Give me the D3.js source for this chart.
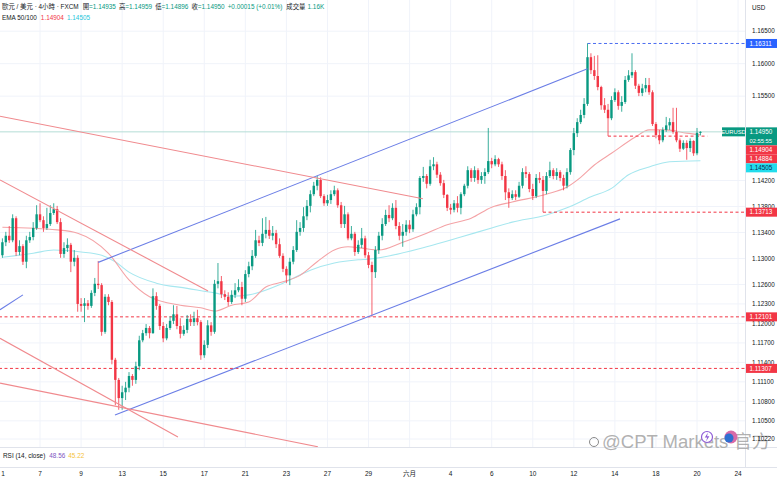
<!DOCTYPE html>
<html>
<head>
<meta charset="utf-8">
<script src="https://cdnjs.cloudflare.com/ajax/libs/d3/7.8.5/d3.min.js"></script>
<style>
  body { margin: 0; background: #ffffff; }
  #chart { width: 777px; height: 480px; }
  text { font-family: "Liberation Sans", "Noto Sans CJK TC", "DejaVu Sans", sans-serif; }
</style>
</head>
<body>
<div id="chart"></div>
<script>
// EUR/USD 4h bars, open = previous close
const firstOpen = 1.1305;
const closes = [
  1.1325,1.1335,1.1328,1.1362,1.1310,1.1319,1.1295,1.1328,1.1333,1.1347,
  1.1368,1.1359,1.1347,1.1353,1.1370,1.1376,1.1356,1.1307,1.1316,1.1321,
  1.1295,1.1301,1.1230,1.1227,1.1231,1.1227,1.1247,1.1261,1.1259,1.1187,
  1.1241,1.1233,1.1144,1.1113,1.1085,1.1094,1.1101,1.1119,1.1113,1.1134,
  1.1174,1.1185,1.1193,1.1185,1.1242,1.1227,1.1196,1.1177,1.1193,1.1204,
  1.1214,1.1196,1.1184,1.1190,1.1207,1.1202,1.1208,1.1202,1.1151,1.1167,
  1.1197,1.1187,1.1261,1.1265,1.1245,1.1241,1.1233,1.1244,1.1251,1.1256,
  1.1238,1.1276,1.1288,1.1304,1.1328,1.1324,1.1338,1.1344,1.1335,1.1339,
  1.1322,1.1304,1.1284,1.1274,1.1295,1.1313,1.1341,1.1347,1.1365,1.1381,
  1.1399,1.1412,1.1421,1.1396,1.1385,1.1390,1.1399,1.1405,1.1382,1.1353,
  1.1368,1.1331,1.1338,1.1310,1.1321,1.1331,1.1305,1.1290,1.1279,1.1313,
  1.1335,1.1353,1.1367,1.1362,1.1378,1.1350,1.1335,1.1341,1.1352,1.1345,
  1.1368,1.1379,1.1424,1.1427,1.1415,1.1442,1.1445,1.1429,1.1416,1.1398,
  1.1378,1.1375,1.1385,1.1378,1.1399,1.1412,1.1436,1.1424,1.1436,1.1421,
  1.1427,1.1433,1.1450,1.1445,1.1453,1.1445,1.1427,1.1402,1.1393,1.1399,
  1.1395,1.1412,1.1433,1.1430,1.1407,1.1396,1.1424,1.1421,1.1404,1.1427,
  1.1436,1.1427,1.1433,1.1424,1.1412,1.1433,1.1467,1.1493,1.1510,1.1521,
  1.1538,1.1610,1.1590,1.1581,1.1564,1.1536,1.1529,1.1516,1.1544,1.1556,
  1.1535,1.1541,1.1575,1.1582,1.1587,1.1566,1.1555,1.1562,1.1567,1.1556,
  1.1507,1.1490,1.1482,1.1498,1.1505,1.1510,1.1495,1.1482,1.1469,1.1478,
  1.1470,1.1481,1.1462,1.14935,1.14950
];
const highs = [
  1.1331,1.1341,1.1350,1.1368,1.1365,1.1328,1.1322,1.1335,1.1341,1.1356,
  1.1382,1.1385,1.1365,1.1378,1.1382,1.1385,1.1381,1.1362,1.1325,1.1331,
  1.1324,1.1313,1.1305,1.1239,1.1239,1.1236,1.1251,1.1270,1.1296,1.1262,
  1.1245,1.1245,1.1236,1.1147,1.1116,1.1104,1.1110,1.1125,1.1122,1.1141,
  1.1181,1.1190,1.1199,1.1196,1.1254,1.1248,1.1230,1.1202,1.1199,1.1211,
  1.1228,1.1227,1.1208,1.1197,1.1213,1.1214,1.1218,1.1221,1.1205,1.1174,
  1.1205,1.1202,1.1267,1.1293,1.1273,1.1251,1.1248,1.1251,1.1262,1.1268,
  1.1264,1.1282,1.1295,1.1313,1.1344,1.1335,1.1362,1.1364,1.1359,1.1350,
  1.1344,1.1331,1.1308,1.1288,1.1301,1.1319,1.1359,1.1356,1.1379,1.1390,
  1.1405,1.1418,1.1427,1.1425,1.1399,1.1398,1.1405,1.1412,1.1408,1.1387,
  1.1381,1.1371,1.1350,1.1341,1.1328,1.1347,1.1335,1.1310,1.1295,1.1319,
  1.1341,1.1362,1.1375,1.1382,1.1385,1.1390,1.1356,1.1353,1.1359,1.1359,
  1.1375,1.1385,1.1427,1.1441,1.1430,1.1452,1.1456,1.1449,1.1433,1.1421,
  1.1399,1.1384,1.1390,1.1396,1.1402,1.1415,1.1442,1.1439,1.1442,1.1439,
  1.1433,1.1439,1.1501,1.1455,1.1459,1.1455,1.1449,1.1436,1.1408,1.1405,
  1.1405,1.1418,1.1439,1.1442,1.1433,1.1415,1.1430,1.1433,1.1427,1.1433,
  1.1449,1.1439,1.1439,1.1436,1.1429,1.1439,1.1470,1.1501,1.1516,1.1529,
  1.1547,1.16311,1.1616,1.1612,1.1613,1.1566,1.1547,1.1538,1.1550,1.1562,
  1.1559,1.1550,1.1581,1.1590,1.1616,1.1590,1.1569,1.1569,1.1578,1.1578,
  1.1559,1.1510,1.1498,1.1502,1.1518,1.1516,1.1532,1.1532,1.1485,1.1482,
  1.1482,1.1485,1.1482,1.1501,1.14959
];
const lows = [
  1.1301,1.1319,1.1324,1.1325,1.1304,1.1305,1.1290,1.1285,1.1324,1.1328,
  1.1344,1.1356,1.1341,1.1344,1.1350,1.1367,1.1353,1.1301,1.1301,1.1310,
  1.1279,1.1288,1.1218,1.1218,1.1202,1.1221,1.1224,1.1242,1.1253,1.1181,
  1.1184,1.1228,1.1137,1.1074,1.1067,1.1067,1.1082,1.1094,1.1104,1.1107,
  1.1128,1.1171,1.1181,1.1177,1.1184,1.1221,1.1190,1.1171,1.1174,1.1190,
  1.1199,1.1191,1.1177,1.1181,1.1185,1.1196,1.1196,1.1197,1.1144,1.1147,
  1.1162,1.1181,1.1184,1.1254,1.1239,1.1236,1.1227,1.1230,1.1239,1.1248,
  1.1228,1.1233,1.1271,1.1282,1.1301,1.1319,1.1319,1.1331,1.1330,1.1328,
  1.1316,1.1301,1.1279,1.1262,1.1259,1.1291,1.1310,1.1335,1.1341,1.1359,
  1.1371,1.1396,1.1405,1.1393,1.1381,1.1381,1.1384,1.1396,1.1378,1.1347,
  1.1347,1.1328,1.1328,1.1304,1.1307,1.1316,1.1301,1.1285,1.12101,1.1270,
  1.1307,1.1328,1.1350,1.1356,1.1359,1.1345,1.1328,1.1318,1.1335,1.1339,
  1.1341,1.1365,1.1368,1.1418,1.1408,1.1412,1.1436,1.1424,1.1412,1.1393,
  1.1373,1.1368,1.1371,1.1371,1.1368,1.1396,1.1408,1.1418,1.1418,1.1415,
  1.1415,1.1415,1.1430,1.1439,1.1442,1.1441,1.1421,1.1390,1.1378,1.1390,
  1.1390,1.1393,1.1408,1.1424,1.1402,1.1390,1.1393,1.1416,1.13713,1.1399,
  1.1424,1.1422,1.1421,1.1419,1.1405,1.1408,1.1429,1.1459,1.1487,1.1507,
  1.1516,1.1535,1.1584,1.1575,1.1559,1.1529,1.1524,1.14884,1.1513,1.1541,
  1.1529,1.1526,1.1538,1.1572,1.1578,1.1561,1.1550,1.1550,1.1556,1.1552,
  1.1504,1.1485,1.1476,1.1479,1.1495,1.1498,1.1492,1.1479,1.1464,1.1467,
  1.1452,1.1464,1.1458,1.1459,1.14896
];

// time axis: bar index of each date label
const dateIdx = [-1, 11, 23, 35, 47, 59, 71, 83, 95, 107, 119, 131, 143, 155, 167, 179, 191, 203, 215];
const dateLabels = ["1","7","9","13","15","17","21","23","27","29","六月","4","6","10","12","14","18","20","24"];

const priceTicks = [1.165, 1.16, 1.155, 1.142, 1.138, 1.134, 1.13, 1.126, 1.123, 1.12, 1.117, 1.114, 1.111, 1.108, 1.105, 1.1022];

// EMA 50 / 100 read at points along the curves
const ema50Idx = [0,16,22,31,37,43,52,58,62,67,72,77,82,87,92,97,101,105,110,117,124,130,137,143,149,159,165,169,173,178,185,189,194,200,204];
const ema50Val = [1.1348,1.1344,1.1339,1.1308,1.1267,1.1241,1.1228,1.1224,1.1219,1.1228,1.1233,1.1256,1.1264,1.1274,1.1295,1.1313,1.1318,1.1316,1.1313,1.1325,1.1339,1.1352,1.1362,1.1379,1.1387,1.1399,1.1410,1.1425,1.1444,1.1462,1.1487,1.1498,1.1498,1.1493,1.14904];
const ema100Idx = [0,9,15,23,29,33,37,45,54,62,67,72,82,90,97,104,107,124,134,143,149,159,165,172,178,183,189,195,204];
const ema100Val = [1.1302,1.1308,1.1313,1.1310,1.1305,1.1295,1.1279,1.1262,1.1254,1.1247,1.1242,1.1244,1.1262,1.1282,1.1293,1.1298,1.1299,1.1318,1.1333,1.1347,1.1356,1.1367,1.1378,1.1395,1.1408,1.1429,1.1441,1.1449,1.14505];

// drawn trend lines: [bar0, price0, bar1, price1]
const blueLines = [[28, 1.1294, 171, 1.1592], [32.9, 1.1059, 180.5, 1.1361], [-0.7, 1.1221, 6, 1.1244]];
const redLines = [[-0.7, 1.1519, 122.9, 1.1392], [-0.7, 1.1421, 60.1, 1.1250], [-0.7, 1.1177, 51.3, 1.1025], [-0.7, 1.1108, 92.2, 1.1010]];

// horizontal levels
const levelPrices = [1.16311, 1.14884, 1.13713, 1.12101, 1.11307];
const levelFrom = [171, 177, 158, -1, -1];
const levelTo = [null, 206, null, null, null];

const W = 777, H = 480, paneR = 745, paneB = 447;
const up = '#089981', down = '#f23645', ink = '#131722';
const fmt = d3.format('.5f');
const n = closes.length;

const bars = closes.map((c, i) => {
  const o = i === 0 ? firstOpen : closes[i - 1];
  return {i, o, c, h: Math.max(highs[i], o, c), l: Math.min(lows[i], o, c)};
});

const x = d3.scaleLinear().domain([0, 203]).range([2.4, 697]);
const y = d3.scaleLinear().domain([1.1022, 1.165]).range([439, 31.2]);

const svg = d3.select('#chart').append('svg').attr('width', W).attr('height', H);
svg.append('rect').attr('width', W).attr('height', H).attr('fill', '#fff');
svg.append('defs').append('clipPath').attr('id', 'pane')
  .append('rect').attr('width', paneR).attr('height', paneB);

const pane = svg.append('g').attr('clip-path', 'url(#pane)');

// grid
pane.selectAll('.vg').data(dateIdx).join('line').attr('class', 'vg')
  .attr('x1', d => x(d)).attr('x2', d => x(d)).attr('y1', 0).attr('y2', paneB)
  .attr('stroke', '#f0f3fa');
pane.selectAll('.hg').data(priceTicks).join('line').attr('class', 'hg')
  .attr('x1', 0).attr('x2', paneR).attr('y1', d => y(d)).attr('y2', d => y(d))
  .attr('stroke', '#f0f3fa');

// EMAs
const emaLine = d3.line().x(d => x(d[0])).y(d => y(d[1])).curve(d3.curveMonotoneX);
pane.append('path').datum(d3.zip(ema100Idx, ema100Val)).attr('d', emaLine)
  .attr('fill', 'none').attr('stroke', '#a6e7ef').attr('stroke-width', 1.1);
pane.append('path').datum(d3.zip(ema50Idx, ema50Val)).attr('d', emaLine)
  .attr('fill', 'none').attr('stroke', '#f4a3a6').attr('stroke-width', 1.1);

// last price line
pane.append('line').attr('x1', 0).attr('x2', paneR)
  .attr('y1', y(closes[n - 1])).attr('y2', y(closes[n - 1]))
  .attr('stroke', '#b5ddd6').attr('stroke-width', 1);

// levels
pane.selectAll('.lvl').data(levelPrices).join('line').attr('class', 'lvl')
  .attr('x1', (d, i) => x(levelFrom[i]))
  .attr('x2', (d, i) => levelTo[i] === null ? paneR : x(levelTo[i]))
  .attr('y1', d => y(d)).attr('y2', d => y(d))
  .attr('stroke', (d, i) => i === 0 ? '#4c6ef0' : down)
  .attr('stroke-width', 1).attr('stroke-dasharray', '3,2.5');

// candles
const cg = pane.append('g');
cg.selectAll('line').data(bars).join('line')
  .attr('x1', d => x(d.i)).attr('x2', d => x(d.i))
  .attr('y1', d => y(d.h)).attr('y2', d => y(d.l))
  .attr('stroke', d => d.c >= d.o ? up : down).attr('stroke-width', 0.8);
cg.selectAll('rect').data(bars).join('rect')
  .attr('x', d => x(d.i) - 1.2).attr('width', 2.4)
  .attr('y', d => y(Math.max(d.o, d.c)))
  .attr('height', d => Math.max(0.8, Math.abs(y(d.o) - y(d.c))))
  .attr('fill', d => d.c >= d.o ? up : down);

// trend lines
pane.selectAll('.tb').data(blueLines).join('line').attr('class', 'tb')
  .attr('x1', d => x(d[0])).attr('y1', d => y(d[1]))
  .attr('x2', d => x(d[2])).attr('y2', d => y(d[3]))
  .attr('stroke', '#6b7ee6').attr('stroke-width', 1.1);
pane.selectAll('.tr').data(redLines).join('line').attr('class', 'tr')
  .attr('x1', d => x(d[0])).attr('y1', d => y(d[1]))
  .attr('x2', d => x(d[2])).attr('y2', d => y(d[3]))
  .attr('stroke', '#f08a8e').attr('stroke-width', 1.1);

// separators
svg.append('line').attr('x1', paneR + 0.5).attr('x2', paneR + 0.5).attr('y1', 0).attr('y2', 467).attr('stroke', '#e0e3eb');
svg.append('line').attr('x1', 0).attr('x2', W).attr('y1', paneB + 0.5).attr('y2', paneB + 0.5).attr('stroke', '#e0e3eb');
svg.append('line').attr('x1', 0).attr('x2', W).attr('y1', 467.5).attr('y2', 467.5).attr('stroke', '#e0e3eb');

// watermark (under the axis labels)
const wm = svg.append('g');
wm.append('circle').attr('cx', 594).attr('cy', 442).attr('r', 4.5).attr('fill', 'none').attr('stroke', '#8a8a8a').attr('stroke-width', 1);
wm.append('text').attr('x', 602).attr('y', 448).attr('font-size', 18.5).attr('fill', '#a3a3a3')
  .attr('fill-opacity', 0.85).text('@CPT Markets 官方');
wm.append('circle').attr('cx', 707).attr('cy', 437).attr('r', 5.5).attr('fill', '#ffffff').attr('stroke', '#8e5bd6').attr('stroke-width', 1.2);
wm.append('path').attr('d', 'M708,432.5 L704.8,437.6 L707.2,437.6 L706,441.5 L709.4,436.2 L707,436.2 Z').attr('fill', '#8e5bd6');
wm.append('circle').attr('cx', 731).attr('cy', 437).attr('r', 6.5).attr('fill', '#d86aa8');
wm.append('circle').attr('cx', 729).attr('cy', 438).attr('r', 4.5).attr('fill', '#2f6fd0');

// price axis
svg.append('text').attr('x', 752).attr('y', 10).attr('font-size', 6.3).attr('fill', ink).text('USD');
svg.selectAll('.pt').data(priceTicks).join('text').attr('class', 'pt')
  .attr('x', 752).attr('y', d => y(d) + 2.2)
  .attr('font-size', 6.3).attr('fill', ink)
  .text(d => fmt(d));

const boxes = [
  {v: levelPrices[0], rows: [fmt(levelPrices[0])], bg: '#2962ff', fg: '#fff'},
  {v: closes[n - 1], rows: [fmt(closes[n - 1]), '02:55:55'], bg: up, fg: '#fff', main: true},
  {v: ema50Val[ema50Val.length - 1], rows: [fmt(ema50Val[ema50Val.length - 1])], bg: down, fg: '#fff'},
  {v: levelPrices[1], rows: [fmt(levelPrices[1])], bg: down, fg: '#fff'},
  {v: ema100Val[ema100Val.length - 1], rows: [fmt(ema100Val[ema100Val.length - 1])], bg: '#22dcec', fg: '#0b2a55'},
  {v: levelPrices[2], rows: [fmt(levelPrices[2])], bg: down, fg: '#fff'},
  {v: levelPrices[3], rows: [fmt(levelPrices[3])], bg: down, fg: '#fff'},
  {v: levelPrices[4], rows: [fmt(levelPrices[4])], bg: down, fg: '#fff'}
];
boxes.sort((a, b) => y(a.v) - y(b.v));
let prevBottom = -Infinity;
boxes.forEach(b => {
  b.h = 9 * b.rows.length;
  b.top = Math.max(y(b.v) - 4.5, prevBottom);
  prevBottom = b.top + b.h;
});
const bx = svg.selectAll('.box').data(boxes).join('g').attr('class', 'box');
bx.append('rect').attr('x', paneR + 1).attr('y', d => d.top).attr('width', W - paneR - 1).attr('height', d => d.h)
  .attr('fill', d => d.bg);
bx.each(function(d) {
  d3.select(this).selectAll('text').data(d.rows).join('text')
    .attr('x', 749.5).attr('y', (r, k) => d.top + 6.8 + k * 9)
    .attr('font-size', (r, k) => k === 0 ? 6.3 : 5.8).attr('fill', d.fg)
    .text(r => r);
});
const mainBox = boxes.find(b => b.main);
svg.append('rect').attr('x', 722).attr('y', mainBox.top).attr('width', paneR - 722).attr('height', 9).attr('fill', up);
svg.append('text').attr('x', 733.5).attr('y', mainBox.top + 6.6).attr('text-anchor', 'middle')
  .attr('font-size', 5.8).attr('fill', '#fff').text('EURUSD');

// time axis
svg.selectAll('.dl').data(dateIdx).join('text').attr('class', 'dl')
  .attr('x', d => Math.max(x(d), 3)).attr('y', 476).attr('text-anchor', 'middle')
  .attr('font-size', 6.5).attr('fill', ink)
  .text((d, i) => dateLabels[i]);

// legend rows drawn as flowing tspans: [text, colour, gap before]
function legendRow(parts, px, py) {
  const t = svg.append('text').attr('x', px).attr('y', py).attr('font-size', 6.4);
  parts.forEach(p => t.append('tspan').attr('dx', p[2]).attr('fill', p[1]).text(p[0]));
}
legendRow([
  ['歐元 / 美元 · 4小時 · FXCM', ink, 0],
  ['開', ink, 4], ['=1.14935', up, 0],
  ['高', ink, 3], ['=1.14959', up, 0],
  ['低', ink, 3], ['=1.14896', up, 0],
  ['收', ink, 3], ['=1.14950', up, 0],
  ['+0.00015 (+0.01%)', up, 3],
  ['成交量', ink, 4], ['1.16K', up, 2]
], 2, 8.5);
legendRow([
  ['EMA 50/100', ink, 0],
  [fmt(ema50Val[ema50Val.length - 1]), down, 4],
  [fmt(ema100Val[ema100Val.length - 1]), '#26c6da', 3]
], 2, 19.5);
legendRow([
  ['RSI (14, close)', ink, 0],
  ['48.56', '#7e57c2', 4],
  ['45.22', '#f5c33b', 3]
], 3, 458);
</script>
</body>
</html>
